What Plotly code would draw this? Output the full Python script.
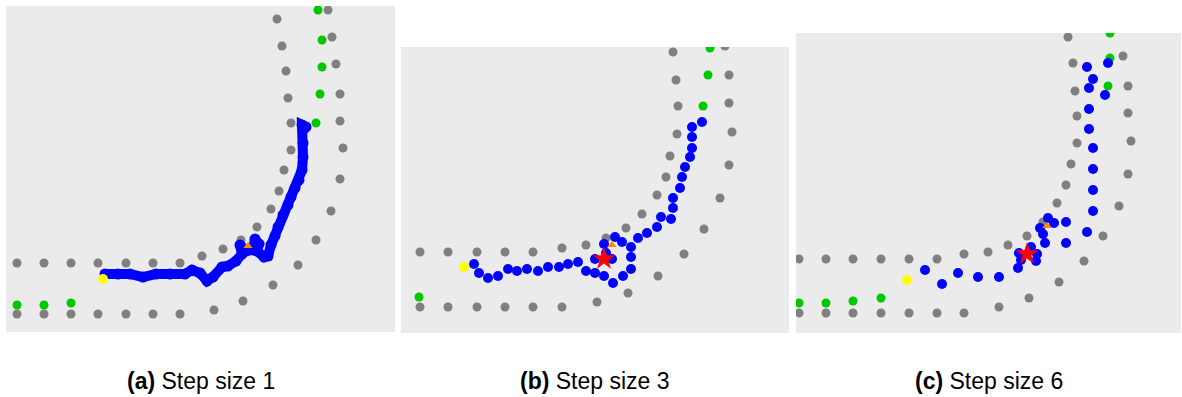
import plotly.graph_objects as go

W, H = 1182, 397

# ---------------- Panel (a): step size 1 ----------------
grey_a_x = [17, 44, 71, 98, 126, 153, 180, 202, 223, 241, 257, 271, 279, 284, 291, 291, 288, 286, 282, 277,
            17, 44, 71, 98, 126, 153, 180, 214, 243, 273, 298, 316, 331, 340, 343, 340, 340, 336, 332, 328]
grey_a_y = [263, 263, 263, 263, 263, 263, 263, 256, 249, 240, 227, 209, 191, 170, 150, 123, 98, 71, 46, 19,
            314, 314, 314, 314, 314, 314, 314, 310, 301, 285, 265, 240, 211, 179, 148, 121, 94, 64, 37, 10]
green_a_x = [17, 44, 71, 316, 320, 322, 322, 318]
green_a_y = [305, 305, 303, 123, 94, 67, 40, 10]
blue_a_x = [105, 118, 130, 143, 156, 170, 185, 192, 200, 207, 213, 222, 228, 236, 242, 240, 246, 253, 255,
            259, 257, 264, 268, 271, 275, 278, 283, 288, 291, 295, 299, 302, 303, 303, 303, 302, 306]
blue_a_y = [274, 274, 274, 277, 274, 274, 274, 270, 273, 281, 277, 267, 266, 261, 254, 245, 251, 250, 239,
            244, 251, 257, 256, 245, 236, 227, 215, 205, 197, 188, 180, 170, 157, 143, 130, 125, 127]
start_a = (103, 279)
goal_a = (248, 246)

# ---------------- Panel (b): step size 3 ----------------
grey_b_x = [420, 448, 477, 505, 533, 562, 586, 606, 626, 642, 657, 666, 670, 677, 678, 676, 673,
            420, 448, 477, 505, 533, 562, 597, 628, 658, 684, 704, 720, 729, 732, 729, 729, 725]
grey_b_y = [252, 252, 252, 252, 252, 248, 245, 238, 228, 214, 195, 177, 156, 134, 106, 80, 52,
            307, 307, 307, 307, 307, 307, 302, 293, 276, 254, 229, 198, 165, 132, 103, 75, 46]
green_b_x = [419, 703, 708, 710]
green_b_y = [297, 106, 75, 48]
blue_b_x = [474, 479, 488, 498, 508, 517, 527, 538, 548, 559, 568, 578, 586, 595, 604, 613, 623, 631, 631,
            631, 622, 615, 604, 606, 612, 595, 638, 647, 657, 661, 671, 673, 673, 680, 682, 685, 690, 692,
            692, 692, 702]
blue_b_y = [264, 273, 278, 276, 269, 271, 269, 271, 267, 267, 264, 262, 271, 273, 276, 283, 276, 269, 257,
            247, 242, 237, 244, 253, 259, 259, 238, 233, 227, 217, 219, 208, 198, 188, 177, 167, 157, 148,
            137, 127, 122]
start_b = (464, 267)
goal_b = (612, 245)
end_b = (604, 259)

# ---------------- Panel (c): step size 6 ----------------
grey_c_x = [799, 826, 853, 881, 909, 937, 964, 988, 1008, 1027, 1043, 1057, 1066, 1071, 1077, 1077, 1075, 1073, 1068,
            799, 826, 853, 881, 909, 937, 964, 999, 1029, 1059, 1084, 1103, 1119, 1128, 1131, 1128, 1128, 1123]
grey_c_y = [259, 259, 259, 259, 259, 259, 254, 252, 245, 236, 222, 203, 185, 164, 143, 116, 91, 63, 37,
            313, 313, 313, 313, 313, 313, 313, 307, 298, 282, 261, 236, 206, 174, 141, 113, 86, 56]
green_c_x = [799, 826, 853, 881, 1108, 1110, 1110]
green_c_y = [303, 303, 301, 298, 86, 58, 33]
blue_c_x = [925, 942, 958, 978, 999, 1018, 1021, 1019, 1031, 1037, 1036, 1045, 1040, 1043, 1048, 1054, 1066,
            1066, 1087, 1093, 1093, 1093, 1093, 1089, 1089, 1089, 1093, 1087, 1105, 1108]
blue_c_y = [270, 284, 273, 277, 277, 268, 260, 253, 247, 254, 261, 243, 228, 234, 218, 223, 222, 243, 232,
            211, 190, 169, 148, 129, 109, 88, 79, 67, 95, 63]
start_c = (907, 280)
goal_c = (1047, 226)
end_c = (1027, 254)

captions = ["<b>(a)</b> Step size 1", "<b>(b)</b> Step size 3", "<b>(c)</b> Step size 6"]

# panel boxes in page pixels: x0, x1, y0, y1
panels = [(6, 395, 6, 332), (401, 789, 47, 333), (796, 1181, 33, 333)]

GREY = "#808080"
BLUE = "#0000ff"
GREEN = "#00c800"
YELLOW = "#ffff00"
ORANGE = "#ff8c00"
RED = "#ff0000"

fig = go.Figure()

data = [
    (grey_a_x, grey_a_y, green_a_x, green_a_y, blue_a_x, blue_a_y, start_a, goal_a, None, True),
    (grey_b_x, grey_b_y, green_b_x, green_b_y, blue_b_x, blue_b_y, start_b, goal_b, end_b, False),
    (grey_c_x, grey_c_y, green_c_x, green_c_y, blue_c_x, blue_c_y, start_c, goal_c, end_c, False),
]

layout = dict(
    width=W, height=H, margin=dict(l=0, r=0, t=0, b=0),
    paper_bgcolor="white", plot_bgcolor="#ebebeb", showlegend=False,
)

for i, (gx, gy, grx, gry, bx, by, st, gl, en, dense) in enumerate(data):
    n = "" if i == 0 else str(i + 1)
    xa, ya = "x" + n, "y" + n
    mk = dict(xaxis=xa, yaxis=ya, hoverinfo="skip")
    fig.add_trace(go.Scatter(x=gx, y=gy, mode="markers",
                             marker=dict(color=GREY, size=9, line=dict(width=0)), **mk))
    fig.add_trace(go.Scatter(x=grx, y=gry, mode="markers",
                             marker=dict(color=GREEN, size=9, line=dict(width=0)), **mk))
    if dense:
        fig.add_trace(go.Scatter(x=bx, y=by, mode="lines+markers",
                                 line=dict(color=BLUE, width=10),
                                 marker=dict(color=BLUE, size=11, line=dict(width=0)), **mk))
    else:
        fig.add_trace(go.Scatter(x=bx, y=by, mode="markers",
                                 marker=dict(color=BLUE, size=10, line=dict(width=0)), **mk))
    fig.add_trace(go.Scatter(x=[gl[0]], y=[gl[1]], mode="markers",
                             marker=dict(color=ORANGE, size=8, symbol="triangle-up", line=dict(width=0)), **mk))
    fig.add_trace(go.Scatter(x=[st[0]], y=[st[1]], mode="markers",
                             marker=dict(color=YELLOW, size=10, line=dict(width=0)), **mk))
    if en is not None:
        fig.add_trace(go.Scatter(x=[en[0]], y=[en[1]], mode="markers",
                                 marker=dict(color=RED, size=17, symbol="star", line=dict(width=0)), **mk))

    x0, x1, y0, y1 = panels[i]
    axis_common = dict(showgrid=False, zeroline=False, showticklabels=False, ticks="",
                       showline=False, fixedrange=True)
    layout["xaxis" + n] = dict(domain=[x0 / W, x1 / W], range=[x0, x1], anchor=ya, **axis_common)
    layout["yaxis" + n] = dict(domain=[1 - y1 / H, 1 - y0 / H], range=[y1, y0], anchor=xa, **axis_common)

annotations = []
for i, cap in enumerate(captions):
    x0, x1, _, _ = panels[i]
    annotations.append(dict(text=cap, x=(x0 + x1) / 2 / W, y=1 - 381 / H, xref="paper", yref="paper",
                            xanchor="center", yanchor="middle", showarrow=False,
                            font=dict(family="Liberation Sans, Arial, sans-serif", size=23, color="black")))
layout["annotations"] = annotations

fig.update_layout(**layout)
fig.write_html("out.html")
